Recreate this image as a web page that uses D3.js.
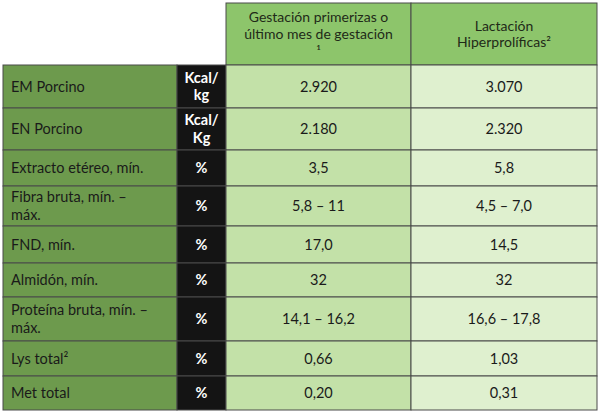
<!DOCTYPE html><html><head><meta charset="utf-8"><script src="https://cdn.jsdelivr.net/npm/d3@7"></script>
<style>body{margin:0;background:#fff}</style></head><body><svg id="c" width="600" height="415"></svg><script>
const headers=[["Gestación primerizas o","último mes de gestación","¹"],["Lactación","Hiperprolíficas²"]];
const labels=[["EM Porcino"],["EN Porcino"],["Extracto etéreo, mín."],["Fibra bruta, mín. –","máx."],["FND, mín."],["Almidón, mín."],["Proteína bruta, mín. –","máx."],["Lys total²"],["Met total"]];
const units=[["Kcal/","kg"],["Kcal/","Kg"],["%"],["%"],["%"],["%"],["%"],["%"],["%"]];
const col1=["2.920","2.180","3,5","5,8 – 11","17,0","32","14,1 – 16,2","0,66","0,20"];
const col2=["3.070","2.320","5,8","4,5 – 7,0","14,5","32","16,6 – 17,8","1,03","0,31"];
const rowEdges=[3,65,108,150,186,226,263,297,341,376,410];
const colEdges=[3,177,226,411,597];
const svg=d3.select("#c"),F="Lato, 'Open Sans', sans-serif";
function cell(x0,x1,y0,y1,fill,lines,color,weight,fs){
 svg.append("rect").attr("x",x0).attr("y",y0).attr("width",x1-x0).attr("height",y1-y0).attr("fill",fill).attr("stroke","#4a4a4a").attr("stroke-width",1);
 const lh=fs*1.2,n=lines.length,cy=(y0+y1)/2;
 lines.forEach((t,i)=>svg.append("text").attr("x",x0+(weight==="left"?8:(x1-x0)/2)).attr("y",cy+(i-(n-1)/2)*lh).attr("dy","0.35em")
  .attr("text-anchor",weight==="left"?"start":"middle").attr("font-family",F).attr("font-size",fs).attr("fill",color)
  .attr("font-weight",weight==="bold"?"bold":"normal").text(t));
}
cell(colEdges[2],colEdges[3],rowEdges[0],rowEdges[1],"#8dc56b",headers[0],"#1f2a18","",14);
cell(colEdges[3],colEdges[4],rowEdges[0],rowEdges[1],"#8dc56b",headers[1],"#1f2a18","",14);
labels.forEach((l,i)=>{const y0=rowEdges[i+1],y1=rowEdges[i+2];
 cell(colEdges[0],colEdges[1],y0,y1,"#6d9a4d",l,"#1a1a1a","left",14.5);
 cell(colEdges[1],colEdges[2],y0,y1,"#141414",units[i],"#ffffff","bold",14.5);
 cell(colEdges[2],colEdges[3],y0,y1,"#c3e1a8",[col1[i]],"#1a1a1a","",14.5);
 cell(colEdges[3],colEdges[4],y0,y1,"#dff0cf",[col2[i]],"#1a1a1a","",14.5);
});
</script></body></html>
